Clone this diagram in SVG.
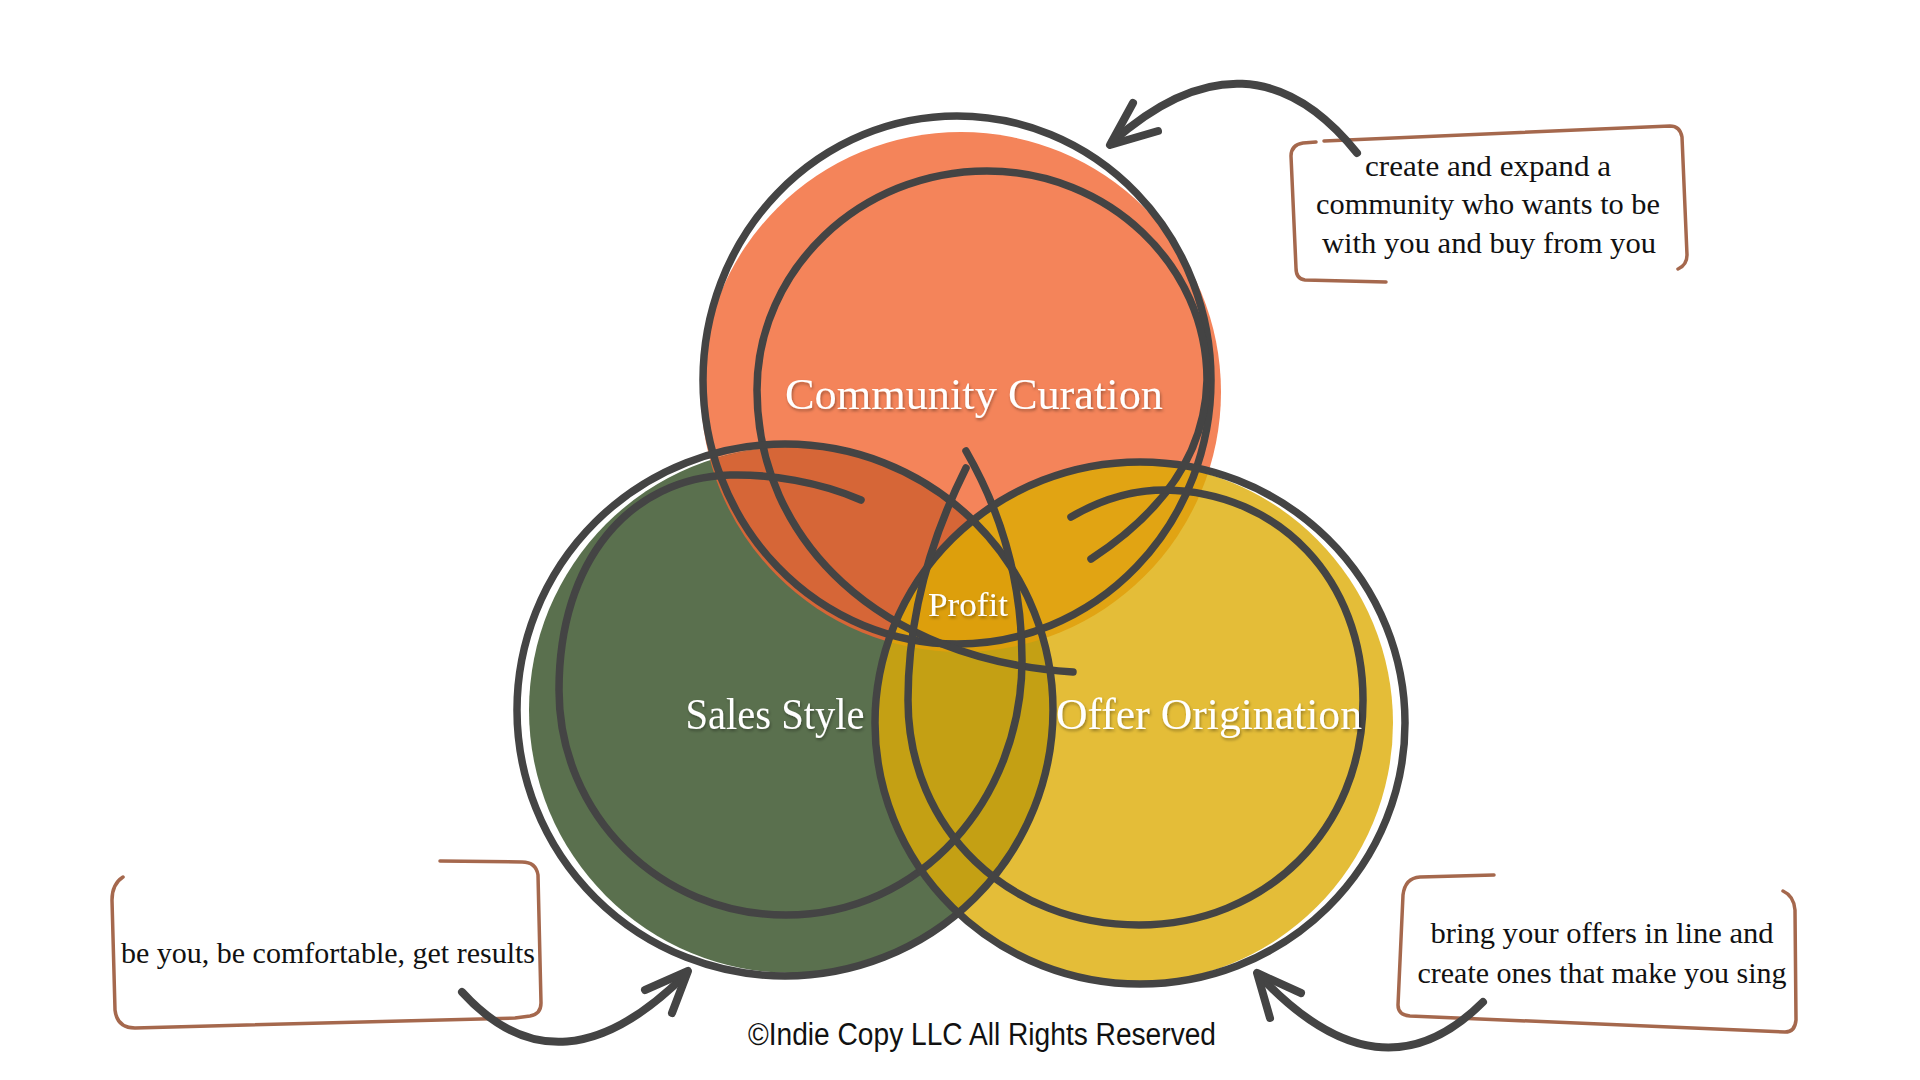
<svg xmlns="http://www.w3.org/2000/svg" width="1920" height="1080" viewBox="0 0 1920 1080">
<style>
.ring{fill:none;stroke:#444444;stroke-width:7.5;stroke-linecap:round;stroke-linejoin:round}
.lbl{font-family:"Liberation Serif","DejaVu Serif",serif;fill:#ffffff;text-anchor:middle;filter:url(#sh)}
.note{font-family:"Liberation Serif","DejaVu Serif",serif;font-size:29px;fill:#111111;text-anchor:middle}
.box{fill:none;stroke:#A5684D;stroke-width:3.5;stroke-linecap:round;stroke-linejoin:round}
.arr{fill:none;stroke:#444444;stroke-width:8;stroke-linecap:round;stroke-linejoin:round}
.foot{font-family:"Liberation Sans","DejaVu Sans",sans-serif;font-size:31px;fill:#111111;text-anchor:middle}
</style>
<defs>
<filter id="sh" x="-10%" y="-30%" width="120%" height="160%">
<feDropShadow dx="1" dy="2" stdDeviation="1.5" flood-color="#000000" flood-opacity="0.35"/>
</filter>
<clipPath id="cpO"><circle cx="961" cy="392" r="260"/></clipPath>
<clipPath id="cpG"><circle cx="792" cy="710" r="263"/></clipPath>
</defs>
<rect width="1920" height="1080" fill="#ffffff"/>

<g id="fills">
<circle cx="961" cy="392" r="260" fill="#F4845A"/>
<circle cx="792" cy="710" r="263" fill="#5A704E"/>
<circle cx="1133" cy="723" r="260" fill="#E4BD38"/>
</g>
<g id="overlaps">
<circle cx="792" cy="710" r="263" fill="#D66637" clip-path="url(#cpO)"/>
<circle cx="1133" cy="723" r="260" fill="#E1A413" clip-path="url(#cpO)"/>
<circle cx="1133" cy="723" r="260" fill="#C4A014" clip-path="url(#cpG)"/>
<g clip-path="url(#cpO)"><circle cx="1133" cy="723" r="260" fill="#DD9F0C" clip-path="url(#cpG)"/></g>
</g>

<g id="node-community-curation">
<ellipse class="ring" cx="957" cy="380" rx="254" ry="264"/>
<path class="ring" d="M1091,559 C1140,527 1205,470 1207,380 C1207,265 1108,171 987,171 C860,171 757,270 757,390 C757,540 880,660 1073,672"/>
<text class="lbl" x="974" y="409" font-size="44" textLength="378" lengthAdjust="spacingAndGlyphs">Community Curation</text>
</g>

<g id="node-sales-style">
<ellipse class="ring" cx="785" cy="710" rx="268" ry="266"/>
<path class="ring" d="M861,500 C820,482 770,474 730,475 C630,478 559,560 559,690 C559,815 660,915 786,915 C920,915 1022,800 1022,660 C1022,580 1000,510 966,451"/>
<text class="lbl" x="775" y="729" font-size="44" textLength="179" lengthAdjust="spacingAndGlyphs">Sales Style</text>
</g>

<g id="node-offer-origination">
<ellipse class="ring" cx="1140" cy="723" rx="265" ry="261"/>
<path class="ring" d="M966,468 C930,540 908,620 908,700 C908,830 1010,925 1139,925 C1265,925 1363,830 1363,700 C1363,580 1280,492 1165,490 C1130,490 1100,500 1071,517"/>
<text class="lbl" x="1209" y="729" font-size="44" textLength="306" lengthAdjust="spacingAndGlyphs">Offer Origination</text>
</g>

<g id="node-profit">
<text class="lbl" x="968" y="616" font-size="34" textLength="80" lengthAdjust="spacingAndGlyphs">Profit</text>
</g>

<g id="callout-community">
<path class="box" d="M1386,282 L1305,280 Q1296,279 1296,268 L1291,156 Q1291,145 1303,143 L1316,142"/>
<path class="box" d="M1324,141 L1670,126 Q1680,126 1682,137 L1687,255 Q1687,265 1678,269"/>
<text class="note" x="1488" y="176" textLength="246" lengthAdjust="spacingAndGlyphs">create and expand a</text>
<text class="note" x="1488" y="214" textLength="344" lengthAdjust="spacingAndGlyphs">community who wants to be</text>
<text class="note" x="1489" y="253" textLength="334" lengthAdjust="spacingAndGlyphs">with you and buy from you</text>
</g>

<g id="callout-sales">
<path class="box" d="M123,877 Q112,884 112,900 L115,1010 Q117,1028 135,1028 L515,1018 L530,1016 Q541,1014 541,1003 L538,875 Q536,862 522,862 L440,861"/>
<text class="note" x="328" y="963" textLength="414" lengthAdjust="spacingAndGlyphs">be you, be comfortable, get results</text>
</g>

<g id="callout-offer">
<path class="box" d="M1494,875 L1420,877 Q1405,878 1403,895 L1398,1005 Q1398,1015 1410,1016 L1785,1032 Q1795,1032 1796,1020 L1795,910 Q1794,896 1783,891"/>
<text class="note" x="1602" y="943" textLength="343" lengthAdjust="spacingAndGlyphs">bring your offers in line and</text>
<text class="note" x="1602" y="983" textLength="369" lengthAdjust="spacingAndGlyphs">create ones that make you sing</text>
</g>

<g id="connectors">
<path class="arr" d="M1357,153 Q1250,20 1112,142"/>
<path class="arr" d="M1133,103 L1110,145 L1158,131"/>
<path class="arr" d="M462,992 Q560,1100 686,974"/>
<path class="arr" d="M645,990 L688,971 L672,1013"/>
<path class="arr" d="M1483,1002 Q1380,1105 1259,975"/>
<path class="arr" d="M1301,993 L1257,973 L1270,1018"/>
</g>

<g id="footer">
<text class="foot" x="982" y="1045" textLength="468" lengthAdjust="spacingAndGlyphs">©Indie Copy LLC All Rights Reserved</text>
</g>
</svg>
